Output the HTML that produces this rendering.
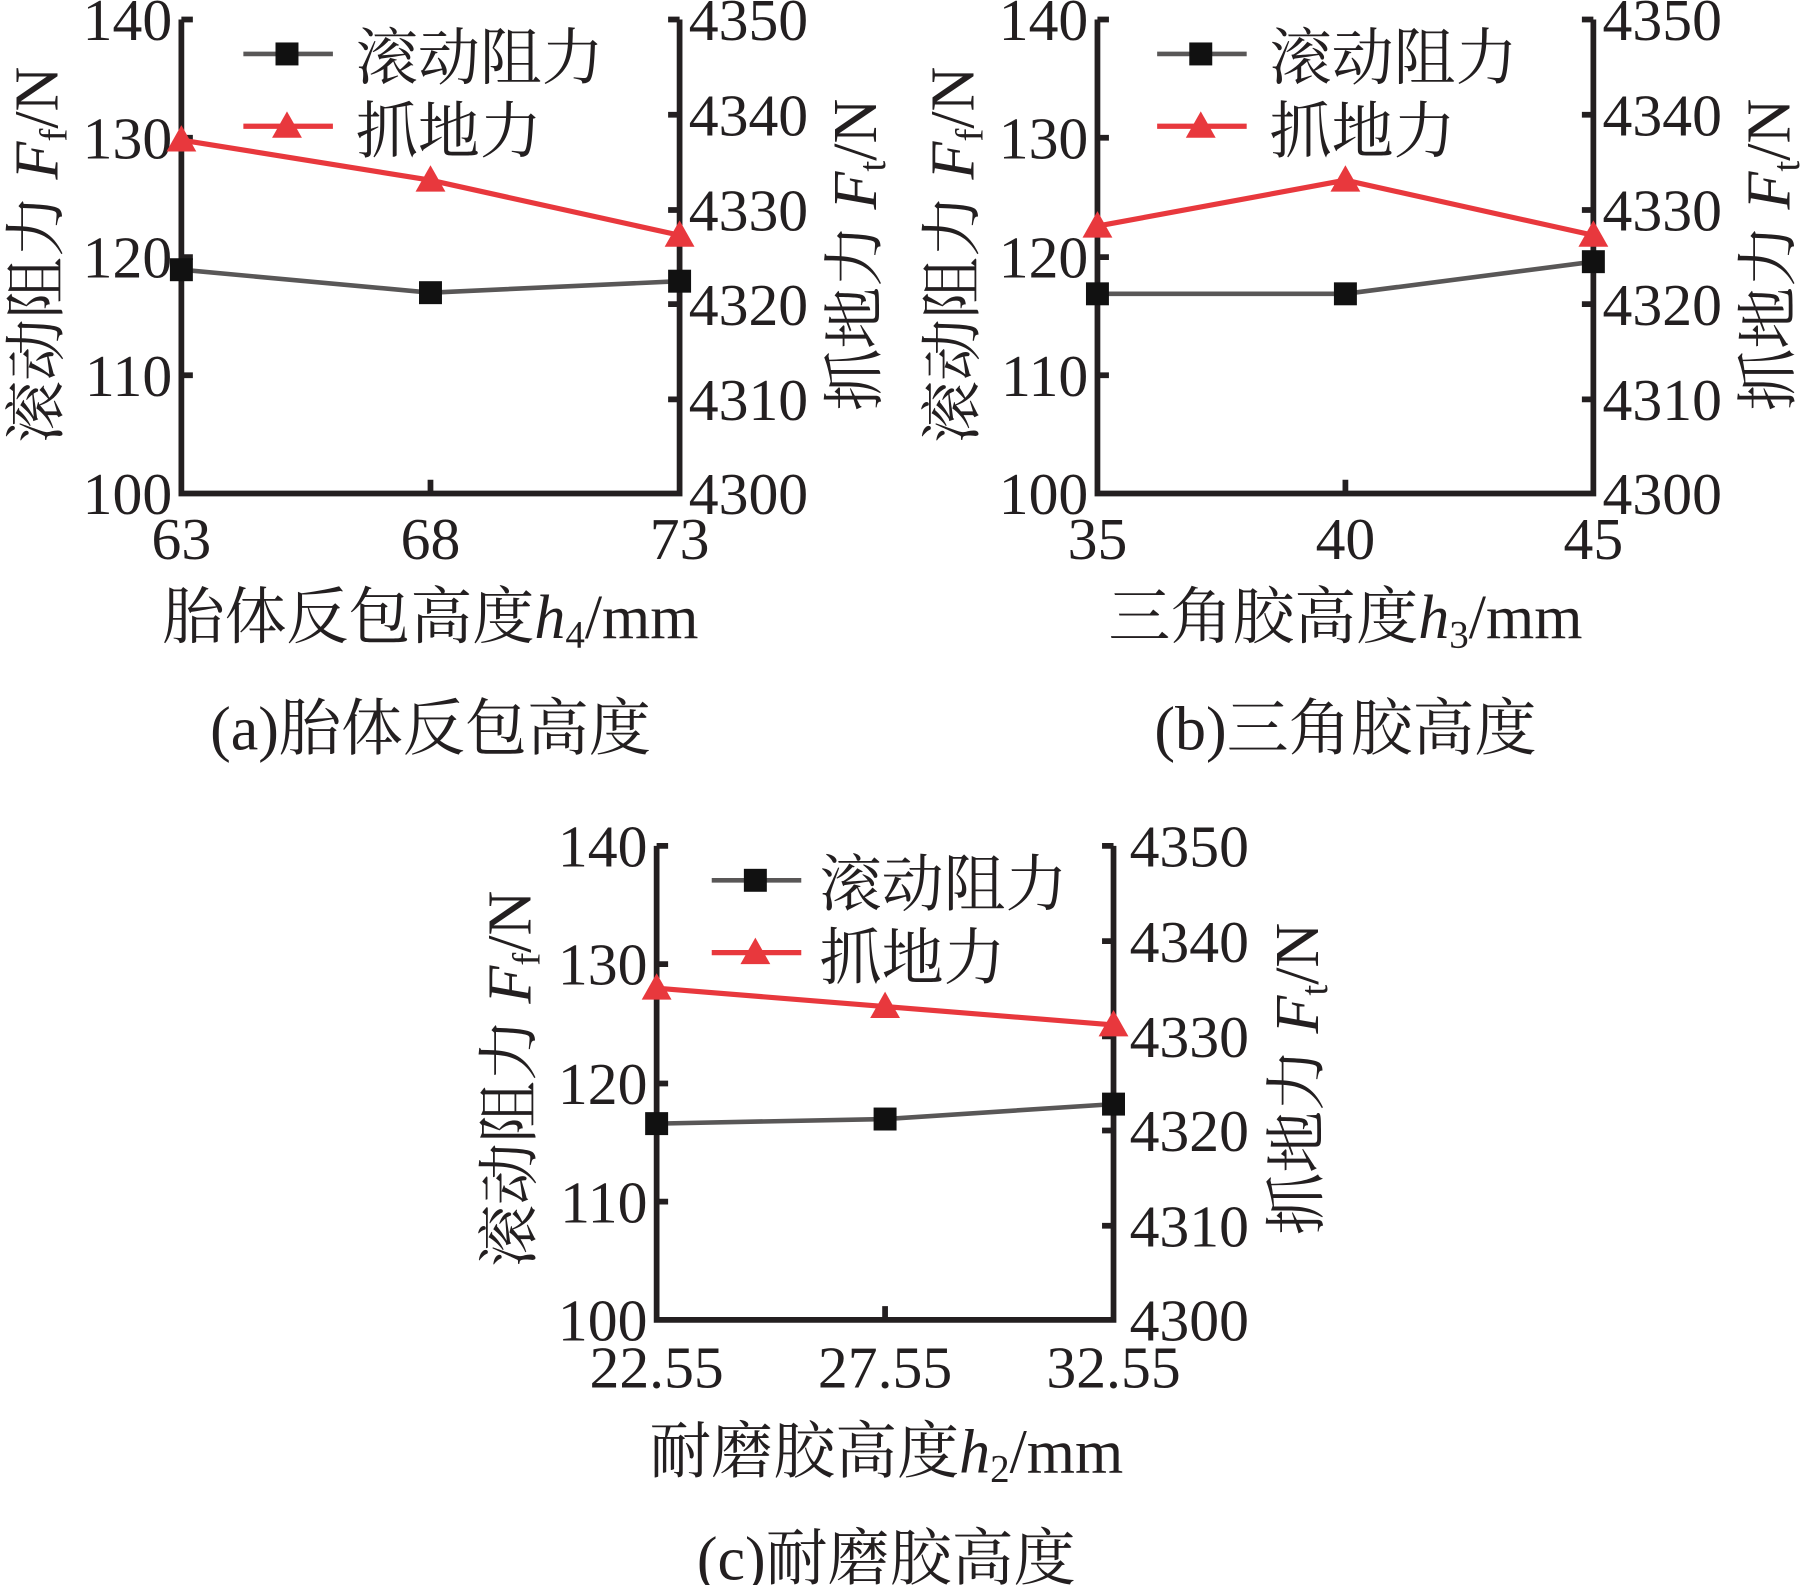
<!DOCTYPE html>
<html><head><meta charset="utf-8"><style>
html,body{margin:0;padding:0;background:#fff;}
svg{display:block;}
.n{font-family:"Liberation Serif",serif;font-size:52px;fill:#231f20;}
.c{font-family:"Liberation Serif","Noto Serif CJK SC","Noto Sans CJK SC",serif;font-size:54px;fill:#231f20;}
.ax{stroke:#231f20;stroke-width:5;fill:none;}
.bl{stroke:#595757;stroke-width:4;fill:none;}
.rd{stroke:#e8383d;stroke-width:4.5;fill:none;}
</style></head><body>
<svg width="1800" height="1585" viewBox="0 0 1568 1381" preserveAspectRatio="none" xmlns="http://www.w3.org/2000/svg">
<defs>
<g id="sq"><rect x="-10" y="-10" width="20" height="20" fill="#111"/></g>
<g id="tr"><polygon points="0,-13 13,10 -13,10" fill="#e8383d"/></g>
</defs>

<!-- Chart A -->
<g transform="translate(158,17)">
 <path class="ax" d="M0,0 V413 H434 V0"/>
 <path class="ax" d="M0,0 h10 M0,103 h10 M0,207 h10 M0,310 h10 M217,413 v-12 M434,0 h-10 M434,83 h-10 M434,166 h-10 M434,248 h-10 M434,331 h-10"/>
 <g class="n" text-anchor="end"><text x="-8" y="18">140</text><text x="-8" y="121">130</text><text x="-8" y="225">120</text><text x="-8" y="328">110</text><text x="-8" y="431">100</text></g>
 <g class="n"><text x="442" y="18">4350</text><text x="442" y="101">4340</text><text x="442" y="184">4330</text><text x="442" y="266">4320</text><text x="442" y="349">4310</text><text x="442" y="431">4300</text></g>
 <g class="n" text-anchor="middle"><text x="0" y="470">63</text><text x="217" y="470">68</text><text x="434" y="470">73</text></g>
 <polyline class="bl" points="0,218 217,238 434,228"/>
 <use href="#sq" x="0" y="218"/><use href="#sq" x="217" y="238"/><use href="#sq" x="434" y="228"/>
 <polyline class="rd" points="0,105 217,140 434,188"/>
 <use href="#tr" x="0" y="105"/><use href="#tr" x="217" y="140"/><use href="#tr" x="434" y="188"/>
 <line class="bl" x1="54" y1="30" x2="132" y2="30"/><use href="#sq" x="92" y="30"/>
 <line class="rd" x1="54" y1="93" x2="132" y2="93"/><use href="#tr" x="92" y="93"/>
 <text class="c" x="152" y="52" font-size="54">滚动阻力</text>
 <text class="c" x="152" y="116" font-size="54">抓地力</text>
</g>
<text class="c" transform="translate(50,222) rotate(-90)" text-anchor="middle">滚动阻力 <tspan font-style="italic">F</tspan><tspan font-size="34" dy="8">f</tspan><tspan dy="-8">/N</tspan></text>
<text class="c" transform="translate(763,222) rotate(-90)" text-anchor="middle">抓地力 <tspan font-style="italic">F</tspan><tspan font-size="34" dy="8">t</tspan><tspan dy="-8">/N</tspan></text>
<text class="c" x="375" y="556" text-anchor="middle" font-size="56">胎体反包高度<tspan font-style="italic">h</tspan><tspan font-size="34" dy="8">4</tspan><tspan dy="-8">/mm</tspan></text>
<text class="c" x="375" y="653" text-anchor="middle" font-size="61">(a)胎体反包高度</text>

<!-- Chart B -->
<g transform="translate(956,17)">
 <path class="ax" d="M0,0 V413 H432 V0"/>
 <path class="ax" d="M0,0 h10 M0,103 h10 M0,207 h10 M0,310 h10 M216,413 v-12 M432,0 h-10 M432,83 h-10 M432,166 h-10 M432,248 h-10 M432,331 h-10"/>
 <g class="n" text-anchor="end"><text x="-8" y="18">140</text><text x="-8" y="121">130</text><text x="-8" y="225">120</text><text x="-8" y="328">110</text><text x="-8" y="431">100</text></g>
 <g class="n"><text x="440" y="18">4350</text><text x="440" y="101">4340</text><text x="440" y="184">4330</text><text x="440" y="266">4320</text><text x="440" y="349">4310</text><text x="440" y="431">4300</text></g>
 <g class="n" text-anchor="middle"><text x="0" y="470">35</text><text x="216" y="470">40</text><text x="432" y="470">45</text></g>
 <polyline class="bl" points="0,239 216,239 432,211"/>
 <use href="#sq" x="0" y="239"/><use href="#sq" x="216" y="239"/><use href="#sq" x="432" y="211"/>
 <polyline class="rd" points="0,180 216,140 432,188"/>
 <use href="#tr" x="0" y="180"/><use href="#tr" x="216" y="140"/><use href="#tr" x="432" y="188"/>
 <line class="bl" x1="52" y1="30" x2="130" y2="30"/><use href="#sq" x="90" y="30"/>
 <line class="rd" x1="52" y1="93" x2="130" y2="93"/><use href="#tr" x="90" y="93"/>
 <text class="c" x="150" y="52" font-size="54">滚动阻力</text>
 <text class="c" x="150" y="116" font-size="54">抓地力</text>
</g>
<text class="c" transform="translate(848,222) rotate(-90)" text-anchor="middle">滚动阻力 <tspan font-style="italic">F</tspan><tspan font-size="34" dy="8">f</tspan><tspan dy="-8">/N</tspan></text>
<text class="c" transform="translate(1559,222) rotate(-90)" text-anchor="middle">抓地力 <tspan font-style="italic">F</tspan><tspan font-size="34" dy="8">t</tspan><tspan dy="-8">/N</tspan></text>
<text class="c" x="1172" y="556" text-anchor="middle" font-size="56">三角胶高度<tspan font-style="italic">h</tspan><tspan font-size="34" dy="8">3</tspan><tspan dy="-8">/mm</tspan></text>
<text class="c" x="1172" y="653" text-anchor="middle" font-size="61">(b)三角胶高度</text>

<!-- Chart C -->
<g transform="translate(572,737)">
 <path class="ax" d="M0,0 V413 H398 V0"/>
 <path class="ax" d="M0,0 h10 M0,103 h10 M0,207 h10 M0,310 h10 M199,413 v-12 M398,0 h-10 M398,83 h-10 M398,166 h-10 M398,248 h-10 M398,331 h-10"/>
 <g class="n" text-anchor="end"><text x="-8" y="18">140</text><text x="-8" y="121">130</text><text x="-8" y="225">120</text><text x="-8" y="328">110</text><text x="-8" y="431">100</text></g>
 <g class="n"><text x="412" y="18">4350</text><text x="412" y="101">4340</text><text x="412" y="184">4330</text><text x="412" y="266">4320</text><text x="412" y="349">4310</text><text x="412" y="431">4300</text></g>
 <g class="n" text-anchor="middle"><text x="0" y="472">22.55</text><text x="199" y="472">27.55</text><text x="398" y="472">32.55</text></g>
 <polyline class="bl" points="0,242 199,238 398,225"/>
 <use href="#sq" x="0" y="242"/><use href="#sq" x="199" y="238"/><use href="#sq" x="398" y="225"/>
 <polyline class="rd" points="0,124 199,140 398,156"/>
 <use href="#tr" x="0" y="124"/><use href="#tr" x="199" y="140"/><use href="#tr" x="398" y="156"/>
 <line class="bl" x1="48" y1="30" x2="126" y2="30"/><use href="#sq" x="86" y="30"/>
 <line class="rd" x1="48" y1="93" x2="126" y2="93"/><use href="#tr" x="86" y="93"/>
 <text class="c" x="142" y="52" font-size="54">滚动阻力</text>
 <text class="c" x="142" y="116" font-size="54">抓地力</text>
</g>
<text class="c" transform="translate(462,940) rotate(-90)" text-anchor="middle">滚动阻力 <tspan font-style="italic">F</tspan><tspan font-size="34" dy="8">f</tspan><tspan dy="-8">/N</tspan></text>
<text class="c" transform="translate(1148,940) rotate(-90)" text-anchor="middle">抓地力 <tspan font-style="italic">F</tspan><tspan font-size="34" dy="8">t</tspan><tspan dy="-8">/N</tspan></text>
<text class="c" x="772" y="1283" text-anchor="middle" font-size="56">耐磨胶高度<tspan font-style="italic">h</tspan><tspan font-size="34" dy="8">2</tspan><tspan dy="-8">/mm</tspan></text>
<text class="c" x="772" y="1376" text-anchor="middle" font-size="61">(c)耐磨胶高度</text>
</svg>
</body></html>
